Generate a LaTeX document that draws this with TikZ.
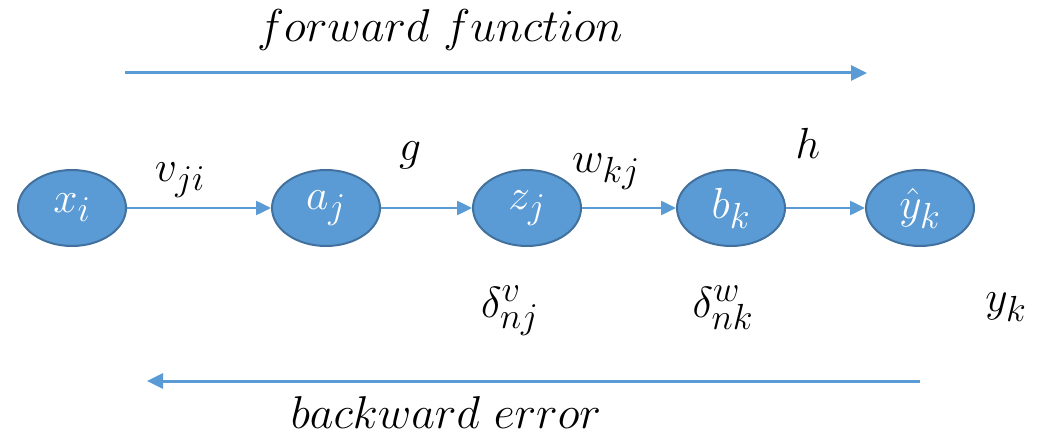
\RequirePackage{fix-cm}
\documentclass[tikz,border=0pt]{standalone}
\usetikzlibrary{shapes.geometric,arrows.meta}
\definecolor{nodefill}{HTML}{5B9BD5}
\definecolor{nodeedge}{HTML}{41719C}
\definecolor{arrowc}{HTML}{5B9BD5}
\newcommand\mtxt[1]{\scalebox{1.75}{\Huge$#1$}}
\newcommand\wtxt[1]{\scalebox{1.85}{\Huge$#1$}}
\begin{document}
\begin{tikzpicture}[x=1pt,y=-1pt,
  unit/.style={ellipse,fill=nodefill,draw=nodeedge,line width=2pt,minimum width=108pt,minimum height=76pt,inner sep=0pt,text=white},
  lbl/.style={inner sep=0pt,text=black},
  flow/.style={draw=arrowc,line width=2.5pt,-{Triangle[length=15pt,width=14pt]}},
  big/.style={draw=arrowc,line width=3pt,-{Triangle[length=16pt,width=15pt]}}]
\useasboundingbox (0,0) rectangle (1051,438);
\node[unit] (x) at (72,208) {\mtxt{x_i}};
\node[unit] (a) at (326,208) {\mtxt{a_j}};
\node[unit] (z) at (527,208) {\mtxt{z_j}};
\node[unit] (b) at (731,208) {\mtxt{b_k}};
\node[unit] (y) at (920,208) {\mtxt{\hat{y}_k}};
\draw[flow] (x) -- (a);
\draw[flow] (a) -- (z);
\draw[flow] (z) -- (b);
\draw[flow] (b) -- (y);
\node[lbl] (lv) at (180,180) {\mtxt{v_{ji}}};
\node[lbl] (lg) at (410,155) {\mtxt{g}};
\node[lbl] (lw) at (606,172) {\mtxt{w_{kj}}};
\node[lbl] (lh) at (808,143) {\mtxt{h}};
\node[lbl] (dv) at (510,311) {\mtxt{\delta^{v}_{nj}}};
\node[lbl] (dw) at (723,308) {\mtxt{\delta^{w}_{nk}}};
\node[lbl] (yk) at (1006,307) {\mtxt{y_k}};
\coordinate (f1) at (125,73);
\coordinate (f2) at (867,73);
\coordinate (b1) at (920,381);
\coordinate (b2) at (147,381);
\draw[big] (f1) -- (f2);
\draw[big] (b1) -- (b2);
\node[lbl] (ft) at (440,30) {\wtxt{forward\ function}};
\node[lbl] (bt) at (446,413) {\wtxt{backward\ error}};
\end{tikzpicture}
\end{document}
